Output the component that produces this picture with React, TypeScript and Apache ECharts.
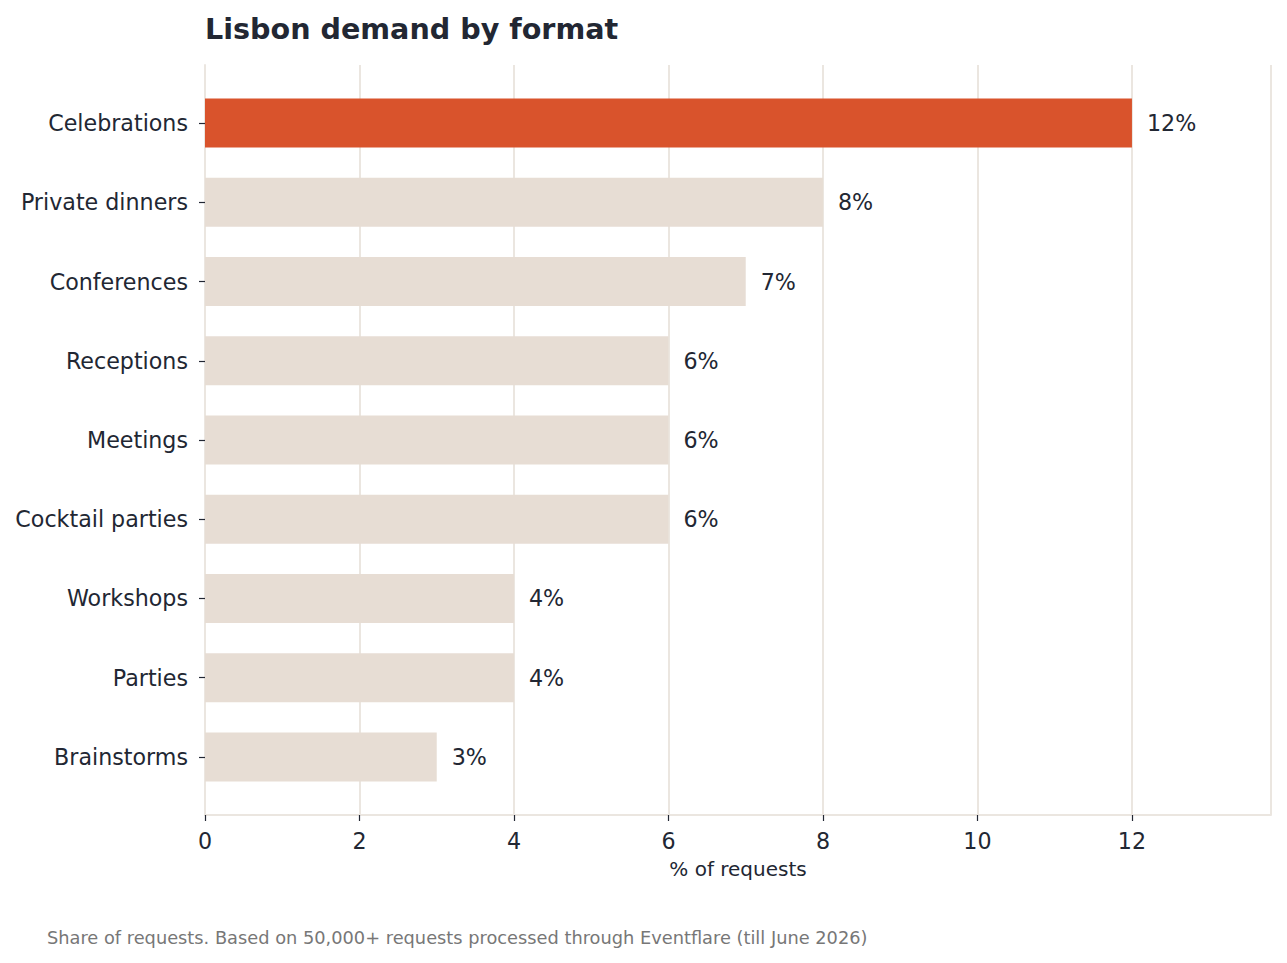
import React, { useEffect, useRef } from "react";
import * as echarts from "echarts";

const categories = [
  "Celebrations",
  "Private dinners",
  "Conferences",
  "Receptions",
  "Meetings",
  "Cocktail parties",
  "Workshops",
  "Parties",
  "Brainstorms",
];
const shares = [12, 8, 7, 6, 6, 6, 4, 4, 3];
const highlightCategory = "Celebrations";
const xTicks = [0, 2, 4, 6, 8, 10, 12];

const TEXT = "#222733";
const GRID = "#ebe6e0";
const HIGHLIGHT = "#d9532c";
const BASE = "#e7ddd4";
const FONT = "DejaVu Sans";

export default function App() {
  const ref = useRef<HTMLDivElement>(null);
  useEffect(() => {
    if (!ref.current) return;
    const chart = echarts.init(ref.current, undefined, { renderer: "svg" });
    const left = 205;
    const right = 1287 - 1271;
    chart.setOption({
      animation: false,
      backgroundColor: "#ffffff",
      textStyle: { fontFamily: FONT, color: TEXT },
      title: {
        text: "Lisbon demand by format",
        left: 205,
        top: 14.5,
        padding: 0,
        textStyle: { fontFamily: FONT, fontSize: 28.6, fontWeight: "bold", color: TEXT },
      },
      grid: [
        { left, right, top: 65, height: 750, containLabel: false, outerBoundsMode: "none" },
        { left, right, top: 83.4, height: 713.2, containLabel: false, outerBoundsMode: "none" },
      ],
      xAxis: [
        {
          type: "value",
          gridIndex: 0,
          min: 0,
          max: 13.8,
          interval: 2,
          name: "% of requests",
          nameLocation: "middle",
          nameGap: 44,
          nameTextStyle: { fontFamily: FONT, fontSize: 20, color: TEXT },
          axisLine: { show: true, lineStyle: { color: GRID, width: 2 } },
          axisTick: { show: true, length: 6, lineStyle: { color: TEXT, width: 1.2 } },
          axisLabel: {
            fontFamily: FONT,
            fontSize: 22.2,
            color: TEXT,
            margin: 15,
            showMaxLabel: false,
            formatter: (v: number) => (xTicks.includes(v) ? String(v) : ""),
          },
          splitLine: { show: true, lineStyle: { color: GRID, width: 2 } },
        },
        {
          type: "value",
          gridIndex: 1,
          min: 0,
          max: 13.8,
          show: false,
        },
      ],
      yAxis: [
        {
          type: "value",
          gridIndex: 0,
          min: 0,
          max: 1,
          axisLine: { show: true, lineStyle: { color: GRID, width: 2 } },
          axisTick: { show: false },
          axisLabel: { show: false },
          splitLine: { show: false },
        },
        {
          type: "category",
          gridIndex: 1,
          data: categories,
          inverse: true,
          axisLine: { show: false },
          axisTick: { show: true, alignWithLabel: true, length: 6, lineStyle: { color: TEXT, width: 1.2 } },
          axisLabel: { fontFamily: FONT, fontSize: 22.2, color: TEXT, margin: 17 },
          splitLine: { show: false },
        },
      ],
      series: [
        {
          type: "bar",
          xAxisIndex: 1,
          yAxisIndex: 1,
          barWidth: 49,
          data: shares.map((v, i) => ({
            value: v,
            itemStyle: { color: categories[i] === highlightCategory ? HIGHLIGHT : BASE },
          })),
          label: {
            show: true,
            position: "right",
            distance: 15,
            fontFamily: FONT,
            fontSize: 22.2,
            color: TEXT,
            formatter: (p: any) => `${p.value}%`,
          },
        },
      ],
      graphic: [
        {
          type: "text",
          left: 47,
          top: 928,
          style: {
            text: "Share of requests. Based on 50,000+ requests processed through Eventflare (till June 2026)",
            fontFamily: FONT,
            fontSize: 17.8,
            fill: "#777777",
          },
        },
      ],
    });
    return () => chart.dispose();
  }, []);
  return (
    <div
      ref={ref}
      style={{ position: "fixed", left: 0, top: 0, width: 1287, height: 963, background: "#fff" }}
    />
  );
}
